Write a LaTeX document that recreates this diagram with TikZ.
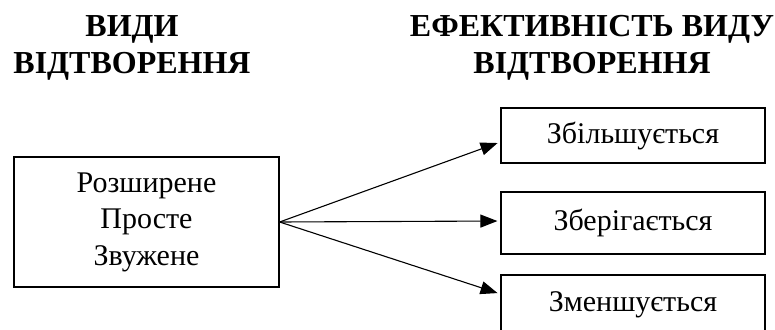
\documentclass[tikz,border=0pt]{standalone}
\usepackage{fontspec}
\setmainfont{Liberation Serif}
\usetikzlibrary{arrows.meta}
\begin{document}
\begin{tikzpicture}[x=1pt,y=-1pt,
  box/.style={draw,line width=1.2pt,inner sep=0pt,align=center,font=\fontsize{30}{36.5}\selectfont},
  head/.style={align=center,inner sep=0pt,font=\fontsize{32}{36}\selectfont\bfseries},
  arr/.style={line width=1.1pt,-{Triangle[length=17pt,width=13pt]},shorten >=3pt}]
\useasboundingbox (0,0) rectangle (775,329);
\node[head,anchor=base] (h1) at (132,73) {ВИДИ\\ВІДТВОРЕННЯ};
\node[head,anchor=base] (h2) at (592,73) {ЕФЕКТИВНІСТЬ ВИДУ\\ВІДТВОРЕННЯ};
\node[box,minimum width=265pt,minimum height=130pt] (src) at (146.5,222) {Розширене\\Просте\\Звужене};
\node[box,minimum width=264pt,minimum height=55pt] (b1) at (633,135.5) {Збільшується};
\node[box,minimum width=264pt,minimum height=62pt] (b2) at (633,223) {Зберігається};
\node[box,minimum width=264pt,minimum height=60pt] (b3) at (633,305) {Зменшується};
\coordinate (t1) at ([yshift=-6.5pt]b1.west);
\coordinate (t2) at ([yshift=2pt]b2.west);
\coordinate (t3) at ([yshift=11pt]b3.west);
\draw[arr] (src.east) -- (t1);
\draw[arr] (src.east) -- (t2);
\draw[arr] (src.east) -- (t3);
\end{tikzpicture}
\end{document}
